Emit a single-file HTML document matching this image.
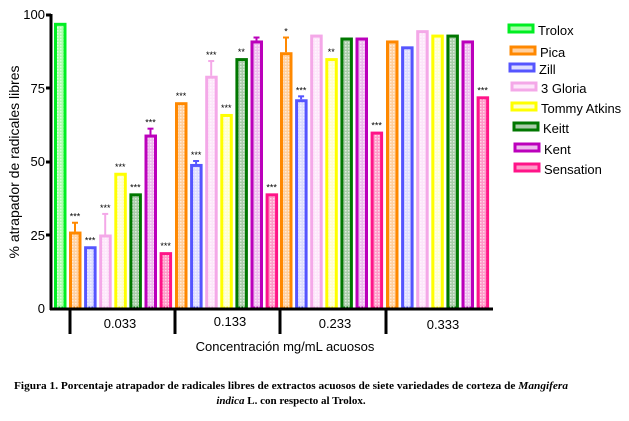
<!DOCTYPE html>
<html><head><meta charset="utf-8"><style>
body{margin:0;background:#fff;width:629px;height:416px;overflow:hidden}
svg text{font-family:"Liberation Sans",sans-serif}
svg text.cap{font-family:"Liberation Serif",serif}
</style></head><body>
<svg width="629" height="416" xmlns="http://www.w3.org/2000/svg">
<defs>
<pattern id="p" width="3" height="3" patternUnits="userSpaceOnUse"><rect width="1.5" height="1.5" fill="#fff" opacity="0.6"/></pattern>
</defs>
<g id="bars"></g>
<line x1="51" y1="14" x2="51" y2="310" stroke="#000" stroke-width="3"/>
<line x1="50" y1="309" x2="493" y2="309" stroke="#000" stroke-width="3"/>
<g stroke="#000" stroke-width="3">
<line x1="46" y1="15" x2="51" y2="15"/><line x1="46" y1="88" x2="51" y2="88"/><line x1="46" y1="162" x2="51" y2="162"/><line x1="46" y1="235" x2="51" y2="235"/>
<line x1="70" y1="309" x2="70" y2="334"/><line x1="175" y1="309" x2="175" y2="334"/><line x1="280" y1="309" x2="280" y2="334"/><line x1="386" y1="309" x2="386" y2="334"/>
</g>
<g font-size="13" text-anchor="end">
<text x="45" y="19">100</text><text x="45" y="93">75</text><text x="45" y="166">50</text><text x="45" y="240">25</text><text x="45" y="313">0</text>
</g>
<g font-size="13" text-anchor="middle">
<text x="120" y="328">0.033</text><text x="230" y="326">0.133</text><text x="335" y="328">0.233</text><text x="443" y="329">0.333</text>
<text x="285" y="351">Concentración mg/mL acuosos</text>
</g>
<text transform="translate(19,162) rotate(-90)" font-size="14" text-anchor="middle">% atrapador de radicales libres</text>
<g font-weight="bold" font-size="11">
<text class="cap" x="14" y="389" textLength="554" lengthAdjust="spacingAndGlyphs">Figura 1. Porcentaje atrapador de radicales libres de extractos acuosos de siete variedades de corteza de <tspan font-style="italic">Mangifera</tspan></text>
<text class="cap" x="291" y="404" text-anchor="middle">  <tspan font-style="italic">indica</tspan> L. con respecto al Trolox.</text>
</g>
<g id="legend" font-size="13"></g>
</svg>
<script>
const C=[["#00ee22","#aaffaa"],["#ff8800","#ffd0a0"],["#5555ff","#ddddff"],["#f4a8e8","#fde6fa"],["#ffff00","#ffffcc"],["#007700","#aaccaa"],["#bb00bb","#eebbee"],["#ff1488","#ff9ac8"]];
const V=[[97,null,null],
[[26,3,"***"],[21,0,"***"],[25,7,"***"],[46,0,"***"],[39,0,"***"],[59,2,"***"],[19,0,"***"]],
[[70,0,"***"],[49,1,"***"],[79,5,"***"],[66,0,"***"],[85,0,"**"],[91,1,""],[39,0,"***"]],
[[87,5,"*"],[71,1,"***"],[93,0,""],[85,0,"**"],[92,0,""],[92,0,""],[60,0,"***"]],
[[91,0,""],[89,0,""],[94.5,0,""],[93,0,""],[93,0,""],[91,0,""],[72,0,"***"]]];
const ns="http://www.w3.org/2000/svg";
const g=document.getElementById("bars");
function el(t,a,p){const e=document.createElementNS(ns,t);for(const k in a)e.setAttribute(k,a[k]);(p||g).appendChild(e);return e;}
const y=v=>308-v*2.94;
function bar(x,v,c,err,star){
 const t=y(v);
 if(err){el("line",{x1:x+6,y1:t,x2:x+6,y2:y(v+err),stroke:c[0],"stroke-width":2});el("line",{x1:x+3,y1:y(v+err),x2:x+9,y2:y(v+err),stroke:c[0],"stroke-width":2});}
 el("rect",{x:x+1.5,y:t+1.5,width:9.5,height:308-t-1.5,fill:c[1],stroke:c[0],"stroke-width":3});
 el("rect",{x:x+3,y:t+3,width:6.5,height:308-t-3,fill:"url(#p)"});
 if(star){const s=el("text",{x:x+6,y:y(v+err)-3,"font-size":"9","text-anchor":"middle"});s.textContent=star;}
}
bar(54,97,C[0],0,"");
const starts=[69,175,280,386];
for(let gi=0;gi<4;gi++)for(let i=0;i<7;i++){const d=V[gi+1][i];bar(starts[gi]+i*15.1,d[0],C[i+1],d[1],d[2]);}
const L=document.getElementById("legend");
const names=["Trolox","Pica","Zill","3 Gloria","Tommy Atkins","Keitt","Kent","Sensation"];
const ly=[30,52,69,88,108,128,149,169];const lx=[508,510,509,511,511,513,514,514];
names.forEach((n,i)=>{el("rect",{x:lx[i]+1,y:ly[i]-5,width:24,height:7,fill:C[i][1],stroke:C[i][0],"stroke-width":3},L);const t=el("text",{x:lx[i]+30,y:ly[i]+5},L);t.textContent=n;});
</script>
</body></html>
